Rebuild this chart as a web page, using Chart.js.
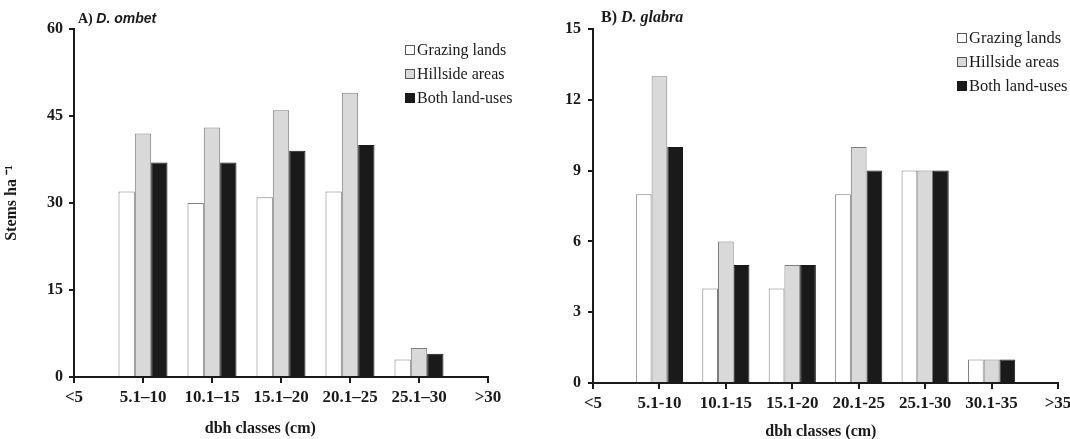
<!DOCTYPE html>
<html>
<head>
<meta charset="utf-8">
<script src="https://cdn.jsdelivr.net/npm/chart.js@4.4.1/dist/chart.umd.min.js"></script>
<style>
  html, body { margin:0; padding:0; background:#fff; width:1070px; height:439px; overflow:hidden; }
  .box { position:absolute; top:0; height:439px; }
  #wa { left:0; width:540px; }
  #wb { left:540px; width:530px; }
</style>
</head>
<body>
<div class="box" id="wa"><canvas id="ca"></canvas></div>
<div class="box" id="wb"><canvas id="cb"></canvas></div>
<script>
// ---- Data ----
const seriesNames = ['Grazing lands', 'Hillside areas', 'Both land-uses'];

const ombetClasses  = ['<5', '5.1–10', '10.1–15', '15.1–20', '20.1–25', '25.1–30', '>30'];
const ombetGrazing  = [null, 32, 30, 31, 32, 3, null];
const ombetHillside = [null, 42, 43, 46, 49, 5, null];
const ombetBoth     = [null, 37, 37, 39, 40, 4, null];
const ombetTicks    = [0, 15, 30, 45, 60];

const glabraClasses  = ['<5', '5.1-10', '10.1-15', '15.1-20', '20.1-25', '25.1-30', '30.1-35', '>35'];
const glabraGrazing  = [null, 8, 4, 4, 8, 9, 1, null];
const glabraHillside = [null, 13, 6, 5, 10, 9, 1, null];
const glabraBoth     = [null, 10, 5, 5, 9, 9, 1, null];
const glabraTicks    = [0, 3, 6, 9, 12, 15];

// ---- Styles ----
const SERIF = "'Liberation Serif', 'Times New Roman', serif";
const SANS = "'Liberation Sans', Arial, sans-serif";
const fills = ['#ffffff', '#d9d9d9', '#1a1a1a'];
const borders = ['#7f7f7f', '#7f7f7f', '#1a1a1a'];

const panelPlugin = {
  id: 'panelDeco',
  afterDraw(chart, args, opts) {
    const ctx = chart.ctx;
    const ca = chart.chartArea;
    ctx.save();
    // panel title
    ctx.textBaseline = 'alphabetic';
    ctx.textAlign = 'left';
    ctx.fillStyle = '#1a1a1a';
    ctx.font = 'bold ' + opts.titleSize + 'px ' + SERIF;
    const tx = ca.left + opts.titleDx;
    ctx.fillText(opts.titleA, tx, opts.titleY);
    const w = ctx.measureText(opts.titleA + ' ').width;
    ctx.font = 'italic bold ' + opts.titleSize + 'px ' + opts.titleFont;
    ctx.fillText(opts.titleB, tx + w, opts.titleY);
    // legend
    ctx.font = opts.legendSize + 'px ' + SERIF;
    ctx.textBaseline = 'middle';
    chart.data.datasets.forEach((ds, i) => {
      const y = opts.legendY + i * opts.legendGap;
      ctx.fillStyle = ds.backgroundColor;
      ctx.fillRect(opts.legendX + 0.5, y - 4.5, 9, 9);
      ctx.strokeStyle = i === 2 ? '#1a1a1a' : '#555';
      ctx.lineWidth = 1;
      ctx.strokeRect(opts.legendX + 0.5, y - 4.5, 9, 9);
      ctx.fillStyle = '#1a1a1a';
      ctx.fillText(ds.label, opts.legendX + 12, y + 1);
    });
    // x-axis title
    ctx.font = 'bold 16px ' + SERIF;
    ctx.textAlign = 'center';
    ctx.textBaseline = 'alphabetic';
    ctx.fillText('dbh classes (cm)', ca.left + (ca.right - ca.left) * opts.xTitleFrac, opts.xTitleY);
    ctx.restore();
  }
};

function makeChart(id, labels, g, h, b, ticks, cfg) {
  const yMax = ticks[ticks.length - 1];
  const step = ticks[1] - ticks[0];
  const series = [g, h, b];
  return new Chart(document.getElementById(id), {
    type: 'bar',
    data: {
      labels: labels,
      datasets: series.map((d, i) => ({
        label: seriesNames[i],
        data: d,
        backgroundColor: fills[i],
        borderColor: borders[i],
        borderWidth: 1,
        categoryPercentage: 0.71,
        barPercentage: 1.0
      }))
    },
    options: {
      responsive: true,
      maintainAspectRatio: false,
      animation: false,
      layout: { padding: { top: 29, left: 0, right: cfg.padRight, bottom: 0 } },
      plugins: {
        legend: { display: false },
        tooltip: { enabled: false },
        title: { display: false },
        panelDeco: cfg.deco
      },
      scales: {
        x: {
          type: 'category',
          offset: false,
          grid: { offset: false, drawOnChartArea: false, drawTicks: true, tickLength: 6, color: '#1a1a1a', lineWidth: 2 },
          border: { display: true, color: '#1a1a1a', width: 2 },
          ticks: { color: '#1a1a1a', font: { family: SERIF, size: 17, weight: 'bold' }, padding: 4, maxRotation: 0, autoSkip: false },
          afterFit(s) { s.height = cfg.xHeight; s.paddingLeft = 0; s.paddingRight = 0; }
        },
        y: {
          min: 0, max: yMax,
          afterBuildTicks(s) { s.ticks = ticks.map(v => ({ value: v })); },
          grid: { drawOnChartArea: false, drawTicks: true, tickLength: 5, color: '#1a1a1a', lineWidth: 2 },
          border: { display: true, color: '#1a1a1a', width: 2 },
          ticks: { color: '#1a1a1a', font: { family: SERIF, size: 16, weight: 'bold' }, padding: cfg.yPad, stepSize: step },
          title: cfg.yTitle ? { display: true, text: cfg.yTitle, color: '#1a1a1a', font: { family: SERIF, size: 16, weight: 'bold' }, padding: { top: 2, bottom: 0 } } : { display: false },
          afterFit(s) { s.width = cfg.yWidth; }
        }
      }
    },
    plugins: [panelPlugin]
  });
}

makeChart('ca', ombetClasses, ombetGrazing, ombetHillside, ombetBoth, ombetTicks, {
  padRight: 52, xHeight: 62, yWidth: 74, yPad: 6, yTitle: 'Stems ha \u207B\u00B9',
  deco: { titleA: 'A)', titleB: 'D. ombet', titleFont: SANS, titleSize: 14, titleDx: 4, titleY: 23,
          legendX: 405, legendY: 50, legendGap: 24, legendSize: 16, xTitleFrac: 0.45, xTitleY: 433 }
});

makeChart('cb', glabraClasses, glabraGrazing, glabraHillside, glabraBoth, glabraTicks, {
  padRight: 12, xHeight: 56, yWidth: 53, yPad: 7, yTitle: null,
  deco: { titleA: 'B)', titleB: 'D. glabra', titleFont: SERIF, titleSize: 16, titleDx: 8, titleY: 22,
          legendX: 417, legendY: 38, legendGap: 24, legendSize: 16.5, xTitleFrac: 0.49, xTitleY: 436 }
});
</script>
</body>
</html>
